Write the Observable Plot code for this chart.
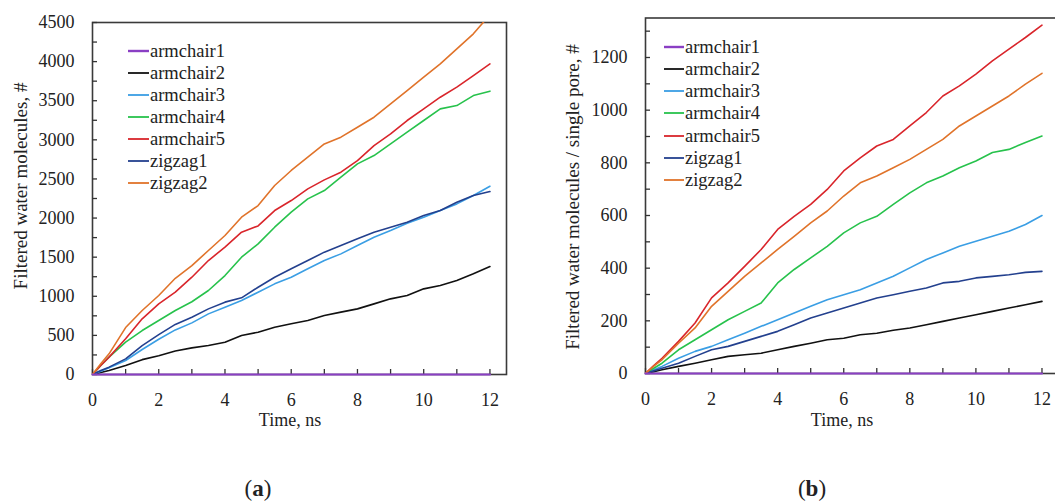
<!DOCTYPE html>
<html><head><meta charset="utf-8">
<script src="https://cdn.jsdelivr.net/npm/d3@7"></script>
<script src="https://cdn.jsdelivr.net/npm/@observablehq/plot@0.6"></script>
<style>
body{margin:0;background:#fff;overflow:hidden;font-family:"Liberation Serif",serif;color:#222}
#wrap{position:relative;width:1055px;height:501px;overflow:hidden}
.abs{position:absolute;white-space:nowrap}
.ylab{font-size:19px;transform:translate(-50%,-50%) rotate(-90deg);}
.xlab{font-size:18px;transform:translate(-50%,-50%);}
.cap{font-size:23px;transform:translate(-50%,-50%);}
.leg{font-size:18.5px;line-height:22px;height:22px;display:flex;align-items:center}
.leg svg{margin-right:1px}
</style></head><body><div id="wrap"></div>
<script>
// ---- data ----
const seriesNames = ["armchair1","armchair2","armchair3","armchair4","armchair5","zigzag1","zigzag2"];
const seriesColors = ["#8a3fc4","#111111","#3a9ee4","#27c24c","#d9252b","#23408e","#e0732a"];
const time = [0,0.25,0.5,1,1.5,2,2.5,3,3.5,4,4.5,5,5.5,6,6.5,7,7.5,8,8.5,9,9.5,10,10.5,11,11.5,12];

// panel (a): filtered water molecules
const a_armchair1 = [0,0,0,0,0,0,0,0,0,0,0,0,0,0,0,0,0,0,0,0,0,0,0,0,0,0];
const a_armchair2 = [0,26,51,115,190,240,300,340,371,413,498,541,605,648,690,754,797,839,903,967,1010,1095,1138,1202,1287,1380];
const a_armchair3 = [0,43,85,179,320,450,570,660,775,861,946,1052,1159,1244,1351,1457,1542,1649,1755,1841,1934,2011,2096,2181,2288,2407];
const a_armchair4 = [0,115,222,413,562,690,818,930,1074,1265,1500,1670,1883,2075,2245,2352,2522,2693,2799,2948,3098,3247,3396,3438,3566,3622];
const a_armchair5 = [0,115,222,456,712,903,1052,1244,1457,1628,1819,1900,2096,2224,2373,2488,2586,2735,2927,3076,3247,3396,3545,3673,3822,3971];
const a_zigzag1   = [0,51,94,200,370,510,640,733,839,925,980,1116,1244,1351,1457,1564,1649,1734,1819,1883,1947,2032,2096,2203,2288,2339];
const a_zigzag2   = [0,136,264,600,818,1010,1230,1393,1585,1777,2011,2160,2416,2608,2778,2948,3034,3161,3289,3460,3630,3801,3971,4163,4355,4600];

// panel (b): filtered water molecules / single pore
const b_armchair1 = [0,0,0,0,0,0,0,0,0,0,0,0,0,0,0,0,0,0,0,0,0,0,0,0,0,0];
const b_armchair2 = [0,7,14,27,39,52,65,71,77,90,103,115,128,134,147,153,164,173,185,198,211,223,236,249,261,274];
const b_armchair3 = [0,14,27,58,84,103,128,153,179,204,230,255,280,299,318,344,369,401,433,458,483,502,521,540,566,600];
const b_armchair4 = [0,20,39,90,128,166,204,236,268,344,395,439,483,534,572,597,642,686,724,750,781,807,839,851,877,902];
const b_armchair5 = [0,30,58,122,192,287,344,407,471,547,597,642,699,769,819,864,889,940,991,1054,1092,1137,1187,1232,1276,1323];
const b_zigzag1   = [0,10,20,39,65,90,103,122,141,160,185,211,230,249,268,287,299,312,325,344,350,363,369,375,384,388];
const b_zigzag2   = [0,28,52,115,173,255,312,369,420,471,521,572,617,674,724,750,781,813,851,889,940,978,1016,1054,1099,1140];

const xLabelTicks = [0,2,4,6,8,10,12];
const xMinorTicks = [0,1,2,3,4,5,6,7,8,9,10,11,12];
const aYLabelTicks = [0,500,1000,1500,2000,2500,3000,3500,4000,4500];
const aYMinorTicks = [0,250,500,750,1000,1250,1500,1750,2000,2250,2500,2750,3000,3250,3500,3750,4000,4250,4500];
const bYLabelTicks = [0,200,400,600,800,1000,1200];
const bYMinorTicks = [0,100,200,300,400,500,600,700,800,900,1000,1100,1200,1300];

const aSeries = [a_armchair1,a_armchair2,a_armchair3,a_armchair4,a_armchair5,a_zigzag1,a_zigzag2];
const bSeries = [b_armchair1,b_armchair2,b_armchair3,b_armchair4,b_armchair5,b_zigzag1,b_zigzag2];

const wrap = document.getElementById("wrap");

function toRows(list){
  const rows = [];
  list.forEach((vals,si)=>vals.forEach((v,i)=>rows.push({series:seriesNames[si], t:time[i], v})));
  return rows;
}

function panel(cfg){
  const rows = toRows(cfg.series);
  const plotW = cfg.width - cfg.ml - cfg.mr;
  const plotH = cfg.height - cfg.mt - cfg.mb;
  const chart = Plot.plot({
    width: cfg.width, height: cfg.height,
    marginLeft: cfg.ml, marginRight: cfg.mr, marginTop: cfg.mt, marginBottom: cfg.mb,
    x: {domain:[0,12.5]},
    y: {domain:[0,cfg.ymax]},
    color: {domain: seriesNames, range: seriesColors},
    style: {fontFamily:"Liberation Serif", fontSize:"18px", color:"#222", background:"transparent", overflow:"visible"},
    marks: [
      Plot.frame({stroke:"#3a3a3a", strokeWidth:1.6}),
      Plot.tickY(cfg.yMinor, {y: d=>d, insetRight: plotW - 5, stroke:"#333", strokeWidth:1.3}),
      Plot.tickX(xMinorTicks, {x: d=>d, insetTop: plotH - 5, stroke:"#333", strokeWidth:1.3}),
      Plot.line(rows.filter(d=>d.series!=="armchair1"), {x:"t", y:"v", stroke:"series", z:"series", strokeWidth:1.6, clip:true}),
      Plot.line(rows.filter(d=>d.series==="armchair1"), {x:"t", y:"v", stroke:"series", z:"series", strokeWidth:2.2}),
      Plot.axisY({ticks: cfg.yLabels, tickFormat:"d", tickSize:0, tickPadding:18, label:null, fontSize:18, fill:"#222"}),
      Plot.axisX({ticks: xLabelTicks, tickFormat:"d", tickSize:0, tickPadding:19, label:null, fontSize:18, fill:"#222"})
    ]
  });
  chart.style.position = "absolute";
  chart.style.left = cfg.left + "px";
  chart.style.top = "0px";
  wrap.appendChild(chart);

  seriesNames.forEach((name,i)=>{
    const d = document.createElement("div");
    d.className = "abs leg";
    d.style.left = cfg.legX + "px";
    d.style.top = (cfg.legY + i*cfg.legStep - 11) + "px";
    d.innerHTML = `<svg width="${cfg.swW}" height="6"><line x1="0" x2="${cfg.swW}" y1="3" y2="3" stroke="${seriesColors[i]}" stroke-width="${i===0?2.4:1.8}"/></svg><span>${name}</span>`;
    wrap.appendChild(d);
  });

  const yl = document.createElement("div");
  yl.className = "abs ylab"; yl.textContent = cfg.ylabel;
  yl.style.left = cfg.ylx + "px"; yl.style.top = cfg.yly + "px";
  wrap.appendChild(yl);

  const xl = document.createElement("div");
  xl.className = "abs xlab"; xl.textContent = "Time, ns";
  xl.style.left = cfg.xlx + "px"; xl.style.top = "420px";
  wrap.appendChild(xl);

  const cp = document.createElement("div");
  cp.className = "abs cap"; cp.innerHTML = `(<b>${cfg.cap}</b>)`;
  cp.style.left = cfg.capx + "px"; cp.style.top = "489px";
  wrap.appendChild(cp);
}

panel({series:aSeries, left:0, width:530, height:420, ml:92, mr:24, mt:22, mb:46, ymax:4500,
  yLabels:aYLabelTicks, yMinor:aYMinorTicks, legX:128, legY:50.7, legStep:22.1, swW:21,
  ylabel:"Filtered water molecules, #", ylx:21, yly:186, xlx:290, cap:"a", capx:258});

panel({series:bSeries, left:530, width:540, height:420, ml:115, mr:12, mt:17.5, mb:47, ymax:1350,
  yLabels:bYLabelTicks, yMinor:bYMinorTicks, legX:664, legY:46.7, legStep:22.2, swW:20,
  ylabel:"Filtered water molecules / single pore, #", ylx:573, yly:197, xlx:842, cap:"b", capx:812});
</script></body></html>
